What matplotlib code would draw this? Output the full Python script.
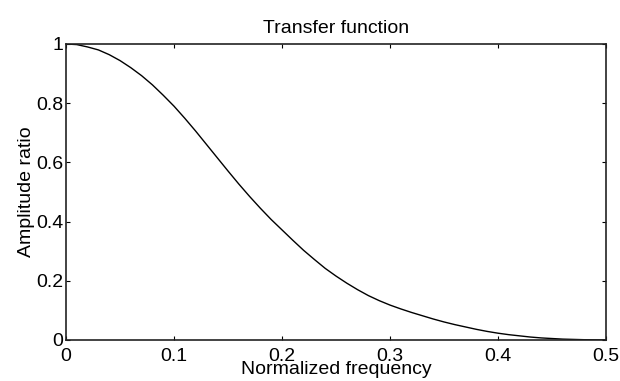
import matplotlib as mpl
mpl.use('Agg')
import matplotlib.pyplot as plt

# values (every 0.01 in frequency)
freq = [0.00, 0.01, 0.02, 0.03, 0.04, 0.05, 0.06, 0.07, 0.08, 0.09,
        0.10, 0.11, 0.12, 0.13, 0.14, 0.15, 0.16, 0.17, 0.18, 0.19,
        0.20, 0.21, 0.22, 0.23, 0.24, 0.25, 0.26, 0.27, 0.28, 0.29,
        0.30, 0.31, 0.32, 0.33, 0.34, 0.35, 0.36, 0.37, 0.38, 0.39,
        0.40, 0.41, 0.42, 0.43, 0.44, 0.45, 0.46, 0.47, 0.48, 0.49, 0.50]
ratio = [1.000, 0.998, 0.990, 0.980, 0.964, 0.944, 0.920, 0.893, 0.862, 0.827,
         0.790, 0.749, 0.706, 0.661, 0.616, 0.571, 0.527, 0.485, 0.445, 0.407,
         0.372, 0.337, 0.303, 0.272, 0.242, 0.216, 0.192, 0.170, 0.150, 0.133,
         0.118, 0.105, 0.093, 0.082, 0.071, 0.061, 0.052, 0.044, 0.036, 0.029,
         0.023, 0.018, 0.014, 0.010, 0.007, 0.005, 0.003, 0.002, 0.001, 0.0005, 0.000]
xticks = [0, 0.1, 0.2, 0.3, 0.4, 0.5]
xticklabels = ['0', '0.1', '0.2', '0.3', '0.4', '0.5']
yticks = [0, 0.2, 0.4, 0.6, 0.8, 1]
yticklabels = ['0', '0.2', '0.4', '0.6', '0.8', '1']

plt.rcParams['font.family'] = ['Liberation Sans', 'DejaVu Sans']

fig = plt.figure(figsize=(6.2, 3.81), dpi=100)
ax = fig.add_axes([66/620, 41/381, 540/620, 296/381])

ax.plot(freq, ratio, color='black', lw=1.0)

ax.set_xlim(0, 0.5)
ax.set_ylim(0, 1)
ax.set_xticks(xticks)
ax.set_xticklabels(xticklabels)
ax.set_yticks(yticks)
ax.set_yticklabels(yticklabels)
ax.tick_params(direction='in', top=True, right=True, length=3, width=0.8,
               labelsize=14, colors='black')
ax.tick_params(axis='x', pad=6)
ax.tick_params(axis='y', pad=2)

for s in ax.spines.values():
    s.set_linewidth(1.2)
    s.set_color('#222222')

ax.set_title('Transfer function', fontsize=14, pad=8)
ax.set_xlabel('Normalized frequency', fontsize=14, labelpad=-3)
ax.set_ylabel('Amplitude ratio', fontsize=14, labelpad=1)

plt.savefig('out.png', dpi=100)
